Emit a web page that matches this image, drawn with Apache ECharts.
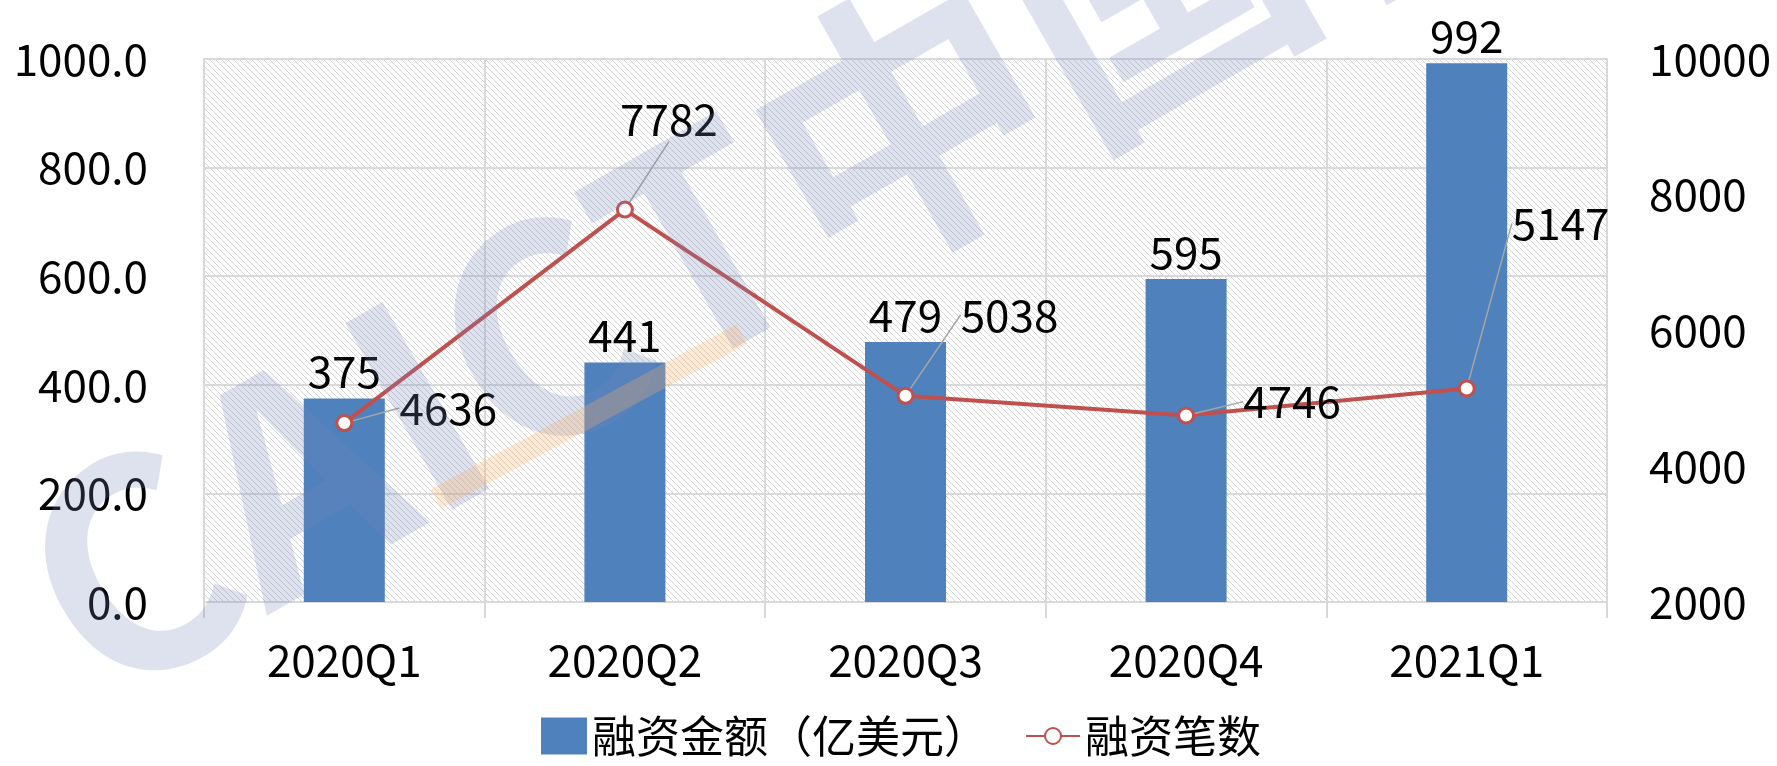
<!DOCTYPE html>
<html>
<head>
<meta charset="utf-8">
<script src="https://cdn.jsdelivr.net/npm/echarts@6/dist/echarts.min.js"></script>
<style>
  html, body { margin: 0; padding: 0; background: #fff; }
  #chart { width: 1777px; height: 766px; }
</style>
</head>
<body>
<div id="chart"></div>
<script>
// quarters and the two series
var quarters = ['2020Q1', '2020Q2', '2020Q3', '2020Q4', '2021Q1'];
var amount = [375, 441, 479, 595, 992];        // 融资金额（亿美元）
var deals = [4636, 7782, 5038, 4746, 5147];     // 融资笔数

// where each 笔数 label sits relative to its point (excel style leader lines)
var dealLabelShift = [[104, -15], [44, -90], [104, -81], [106, -14], [94, -165]];

var FONT = '"Noto Sans CJK SC", "Noto Sans", sans-serif';
var FS = 44;

// diagonal hatch for the plot background
var hatch = document.createElement('canvas');
hatch.width = 6;
hatch.height = 6;
var hctx = hatch.getContext('2d');
hctx.fillStyle = '#ffffff';
hctx.fillRect(0, 0, 6, 6);
hctx.strokeStyle = '#d4d4d4';
hctx.lineWidth = 1;
hctx.beginPath();
hctx.moveTo(0, 0); hctx.lineTo(6, 6);
hctx.moveTo(-1, 5); hctx.lineTo(1, 7);
hctx.moveTo(5, -1); hctx.lineTo(7, 1);
hctx.stroke();

var chart = echarts.init(document.getElementById('chart'));

var legendText = { fontSize: FS, color: '#000', fontFamily: FONT };

var option = {
  animation: false,
  textStyle: { fontFamily: FONT },
  grid: {
    left: 204, right: 170, top: 59, bottom: 164,
    show: true,
    backgroundColor: { image: hatch, repeat: 'repeat' },
    borderColor: '#d9d9d9',
    borderWidth: 2
  },
  // two legends so the square and the line marker can have their own sizes
  legend: [
    {
      left: 536, bottom: 3,
      itemWidth: 46, itemHeight: 37,
      itemGap: 4,
      textStyle: legendText,
      data: [{ name: '融资金额（亿美元）', icon: 'rect' }]
    },
    {
      left: 1020, bottom: 3,
      itemWidth: 54, itemHeight: 20,
      textStyle: legendText,
      data: [{ name: '融资笔数' }]
    }
  ],
  xAxis: {
    type: 'category',
    data: quarters,
    axisLine: { lineStyle: { color: '#d9d9d9', width: 2 } },
    axisTick: { show: true, length: 16, lineStyle: { color: '#d9d9d9', width: 2 } },
    splitLine: { show: true, lineStyle: { color: '#d9d9d9', width: 2 } },
    axisLabel: { fontSize: FS, color: '#000', margin: 36 }
  },
  yAxis: [
    {
      type: 'value',
      min: 0, max: 1000, interval: 200,
      axisLine: { show: false },
      axisTick: { show: false },
      splitLine: { lineStyle: { color: '#d9d9d9', width: 2 } },
      axisLabel: {
        fontSize: FS, color: '#000', margin: 56,
        formatter: function (v) { return v.toFixed(1); }
      }
    },
    {
      type: 'value',
      min: 2000, max: 10000, interval: 2000,
      axisLine: { show: false },
      axisTick: { show: false },
      splitLine: { show: false },
      axisLabel: {
        fontSize: FS, color: '#000', margin: 42,
        formatter: function (v) { return String(v); }
      }
    }
  ],
  series: [
    {
      name: '融资金额（亿美元）',
      type: 'bar',
      data: amount,
      barWidth: 81,
      itemStyle: { color: '#4f81bd' },
      label: { show: true, position: 'top', fontSize: FS, color: '#000', distance: 5 }
    },
    {
      name: '融资笔数',
      type: 'line',
      yAxisIndex: 1,
      data: deals,
      symbol: 'circle',
      symbolSize: 15,
      lineStyle: { color: '#c0504d', width: 4 },
      itemStyle: { color: '#ffffff', borderColor: '#c0504d', borderWidth: 3 },
      label: { show: true, position: 'inside', fontSize: FS, color: '#000' },
      labelLine: { show: true, lineStyle: { color: '#a6a6a6', width: 1.5 } },
      labelLayout: function (p) {
        var s = dealLabelShift[p.dataIndex];
        return { dx: s[0], dy: s[1] };
      },
      z: 5
    }
  ],
  // faint CAICT watermark across the chart
  graphic: [
    {
      type: 'text',
      silent: true,
      z: 100,
      x: 120, y: 740,
      rotation: 0.52,
      style: {
        text: 'CAICT中国信通院',
        font: 'bold 290px "Noto Sans CJK SC", sans-serif',
        fill: 'rgba(115,132,188,0.24)',
        textVerticalAlign: 'bottom'
      }
    },
    {
      type: 'line',
      silent: true,
      z: 100,
      shape: { x1: 436, y1: 499, x2: 742, y2: 334 },
      style: { stroke: 'rgba(250,175,100,0.28)', lineWidth: 22 }
    }
  ]
};

chart.setOption(option);
</script>
</body>
</html>
